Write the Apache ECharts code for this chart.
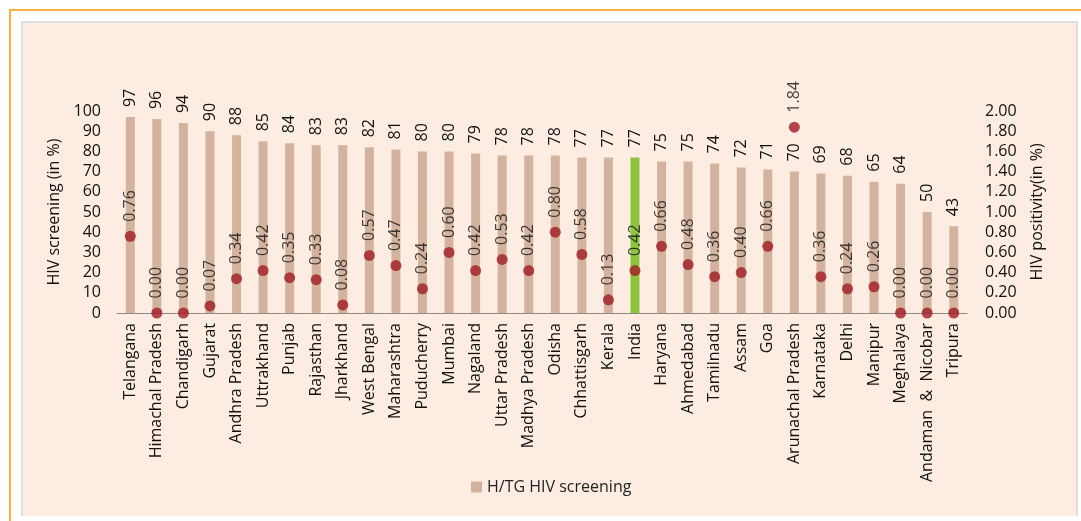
<!DOCTYPE html>
<html>
<head>
<meta charset="utf-8">
<script src="https://cdn.jsdelivr.net/npm/echarts@6/dist/echarts.min.js"></script>
<style>
  html, body { margin: 0; padding: 0; background: #fff; }
  #frame { position: absolute; left: 9px; top: 9px; width: 1072px; height: 512px;
    border-left: 2px solid #fbb040; border-top: 2px solid #fbb040; }
  #panel { position: absolute; left: 21px; top: 21px; width: 1053px; height: 493px;
    background: #fdece2; border: 2px solid #dedede; border-bottom: none; }
  #chart { position: absolute; left: 0; top: 0; width: 1081px; height: 521px; }
</style>
</head>
<body>
<div id="frame"></div>
<div id="panel"></div>
<div id="chart"></div>
<script>
const categories = ['Telangana', 'Himachal Pradesh', 'Chandigarh', 'Gujarat', 'Andhra Pradesh', 'Uttrakhand',
  'Punjab', 'Rajasthan', 'Jharkhand', 'West Bengal', 'Maharashtra', 'Puducherry', 'Mumbai', 'Nagaland',
  'Uttar Pradesh', 'Madhya Pradesh', 'Odisha', 'Chhattisgarh', 'Kerala', 'India', 'Haryana', 'Ahmedabad',
  'Tamilnadu', 'Assam', 'Goa', 'Arunachal Pradesh', 'Karnataka', 'Delhi', 'Manipur', 'Meghalaya',
  'Andaman  &  Nicobar', 'Tripura']
const screening = [97, 96, 94, 90, 88, 85, 84, 83, 83, 82, 81, 80, 80, 79, 78, 78, 78, 77, 77, 77,
  75, 75, 74, 72, 71, 70, 69, 68, 65, 64, 50, 43]
const positivity = [0.76, 0.00, 0.00, 0.07, 0.34, 0.42, 0.35, 0.33, 0.08, 0.57, 0.47, 0.24, 0.60, 0.42,
  0.53, 0.42, 0.80, 0.58, 0.13, 0.42, 0.66, 0.48, 0.36, 0.40, 0.66, 1.84, 0.36, 0.24, 0.26, 0.00,
  0.00, 0.00]
const highlight = 'India'

const font = '"Open Sans", Lato, sans-serif'
const barColor = '#d3b39e'
const chart = echarts.init(document.getElementById('chart'))

chart.setOption({
  backgroundColor: 'transparent',
  textStyle: { fontFamily: font, color: '#111' },
  grid: { left: 117, right: 114, top: 111, bottom: 208 },
  legend: {
    data: ['H/TG HIV screening'],
    left: 466, top: 474,
    itemWidth: 11, itemHeight: 11, itemGap: 4,
    icon: 'rect',
    textStyle: { fontFamily: font, fontSize: 16, color: '#222' }
  },
  xAxis: {
    type: 'category',
    data: categories,
    axisLine: { lineStyle: { color: '#8a8a8a', width: 1 } },
    axisTick: { show: false },
    axisLabel: { rotate: 90, interval: 0, margin: 10, fontSize: 16, color: '#111', fontFamily: font }
  },
  yAxis: [
    {
      type: 'value', min: 0, max: 100, interval: 10,
      name: 'HIV screening (in %)', nameLocation: 'middle', nameGap: 54, nameRotate: 90,
      nameTextStyle: { fontSize: 16, color: '#111', fontFamily: font },
      axisLine: { show: false }, axisTick: { show: false }, splitLine: { show: false },
      axisLabel: { fontSize: 16, color: '#111', margin: 16, fontFamily: font }
    },
    {
      type: 'value', min: 0, max: 2, interval: 0.2,
      name: 'HIV positivity(in %)', nameLocation: 'middle', nameGap: 62, nameRotate: 90,
      nameTextStyle: { fontSize: 16, color: '#111', fontFamily: font },
      axisLine: { show: false }, axisTick: { show: false }, splitLine: { show: false },
      axisLabel: { fontSize: 16, color: '#111', margin: 18, fontFamily: font,
        formatter: v => v.toFixed(2) }
    }
  ],
  series: [
    {
      name: 'H/TG HIV screening',
      type: 'bar',
      barWidth: 9,
      itemStyle: { color: barColor },
      data: screening.map((v, i) => categories[i] === highlight
        ? { value: v, itemStyle: { color: '#8cc43f' } } : v),
      label: {
        show: true, position: 'top', rotate: 90, align: 'left', verticalAlign: 'middle',
        distance: 10, fontSize: 16, color: '#111', fontFamily: font
      }
    },
    {
      name: 'HIV positivity',
      type: 'scatter',
      yAxisIndex: 1,
      symbolSize: 11,
      itemStyle: { color: '#a01c22' },
      data: positivity,
      label: {
        show: true, position: 'top', rotate: 90, align: 'left', verticalAlign: 'middle',
        distance: 9, fontSize: 16, color: '#111', fontFamily: font,
        formatter: p => p.value.toFixed(2)
      }
    }
  ]
})
</script>
</body>
</html>
